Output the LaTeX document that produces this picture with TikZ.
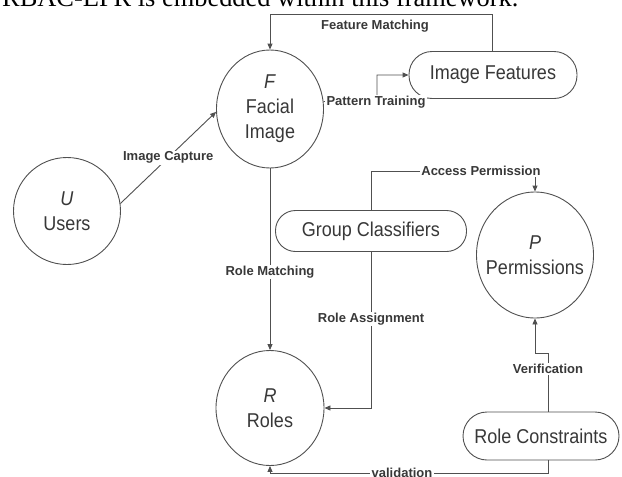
\documentclass[tikz,border=0pt]{standalone}
\usepackage{fontspec}
\setmainfont{Liberation Serif}
\newfontfamily\nodefont{Liberation Sans}[FakeStretch=0.9]
\newfontfamily\lblfont{Liberation Sans}
\usetikzlibrary{shapes.geometric,arrows.meta}
\definecolor{linec}{HTML}{505050}
\definecolor{textc}{HTML}{383838}
\begin{document}
\begin{tikzpicture}[x=1pt,y=-1pt,
  circ/.style={ellipse, draw=linec, line width=0.9pt, inner sep=-15pt, align=center,
    font=\nodefont\fontsize{20}{25}\selectfont, text=textc},
  pill/.style={rectangle, rounded corners=21pt, draw=linec, line width=0.9pt, align=center,
    font=\nodefont\fontsize{20}{24}\selectfont, text=textc},
  arr/.style={draw=linec, line width=0.9pt, -{Triangle[length=6pt,width=5pt]}},
  ln/.style={draw=linec, line width=0.9pt},
  lbl/.style={font=\lblfont\bfseries\fontsize{13}{15}\selectfont, text=textc, fill=white, inner sep=1.2pt}]
\useasboundingbox (0,0) rectangle (622,477);
\clip (0,0) rectangle (622,477);
\fill[white] (0,0) rectangle (622,477);

\node[anchor=base west, inner sep=0, font=\fontsize{26.4}{30}\selectfont] (title) at (2,6) {RBAC-EPR is embedded within this framework.};

% nodes
\node[circ, minimum width=107pt, minimum height=107pt] (U) at (67,211) {\textit{U}\\Users};
\node[circ, minimum width=107pt, minimum height=118pt] (F) at (270,109) {\textit{F}\\Facial\\Image};
\node[circ, minimum width=108pt, minimum height=115pt] (R) at (270,408) {\textit{R}\\Roles};
\node[circ, inner xsep=-30pt, minimum width=117pt, minimum height=126pt] (P) at (535,255) {\textit{P}\\Permissions};
\node[pill, minimum width=168pt, minimum height=47pt, rounded corners=23pt] (IF) at (493,75) {Image Features};
\node[pill, minimum width=191pt, minimum height=41pt, rounded corners=20pt] (GC) at (371,231) {Group Classifiers};
\node[pill, minimum width=156pt, minimum height=48pt, rounded corners=24pt] (RC) at (541,436) {Role Constraints};

% Image Capture
\draw[arr] (U.8) -- (F.183) node[lbl, pos=0.5] (lic) {Image Capture};

% Feature Matching
\draw[arr] ([xshift=-1pt]IF.north) -- ([xshift=-1pt]IF.north |- 0,14) -| (F.north);
\node[lbl, fill=none] (lfm) at (375,26) {Feature Matching};

% Pattern Training
\coordinate (ptc) at (377,102);
\draw[arr] (F.8) -- (ptc) |- (IF.west);
\node[lbl] (lpt) at (376,102) {Pattern Training};

% Role Matching
\draw[arr] (F.south) -- (R.north) node[lbl, pos=0.57] (lrm) {Role Matching};

% Access Permission
\coordinate (apc) at (P.north |- 0,171);
\draw[arr] (GC.north) |- (apc) -- (P.north);
\node[lbl] (lap) at (481,171) {Access Permission};

% Role Assignment
\draw[arr] (GC.south) |- (R.east);
\node[lbl] (lra) at (371,319) {Role Assignment};

% Verification
\coordinate (vj) at (548,353);
\draw[arr] ([xshift=7pt]RC.north) -- (vj) -| (P.south);
\node[lbl] (lv) at (548,369) {Verification};

% validation
\coordinate (vb) at (548,473);
\draw[arr] ([xshift=7pt]RC.south) -- (vb) -| (R.south);
\node[lbl] (lval) at (402,473) {validation};
\end{tikzpicture}
\end{document}
